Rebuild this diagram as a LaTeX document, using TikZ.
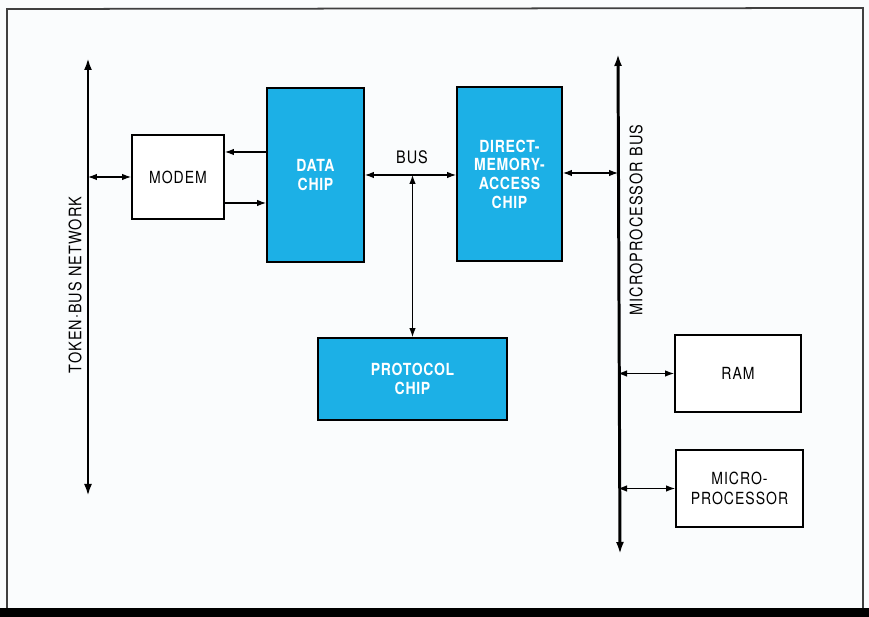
\documentclass[tikz,border=0pt]{standalone}
\usepackage{fontspec}
\setmainfont{TeX Gyre Heros}[FakeStretch=0.84]
\usepackage{tikz}
\usetikzlibrary{arrows.meta,positioning}
\definecolor{chipblue}{RGB}{28,176,230}
\definecolor{paper}{RGB}{250,252,253}

\begin{document}
\begin{tikzpicture}[x=0.02cm, y=-0.02cm,
  box/.style={draw, line width=1.1pt, fill=white, inner sep=0pt, align=center,
    font=\fontsize{9.5}{11}\selectfont\addfontfeature{LetterSpace=6}},
  chip/.style={box, fill=chipblue, text=white,
    font=\fontsize{9.5}{10.6}\selectfont\bfseries\addfontfeature{LetterSpace=4}},
  busline/.style={line width=1.7pt, {Latex[length=2.4mm,width=1.6mm]}-{Latex[length=2.4mm,width=1.6mm]}},
  link/.style={line width=0.6pt, {Latex[length=1.8mm,width=1.3mm]}-{Latex[length=1.8mm,width=1.3mm]}},
  oneway/.style={line width=0.6pt, -{Latex[length=1.8mm,width=1.3mm]}},
  label/.style={inner sep=0pt, font=\fontsize{9.8}{11}\selectfont\addfontfeature{LetterSpace=6}}]

  % page and frame
  \fill[paper] (0,0) rectangle (869,617);
  \useasboundingbox (0,0) rectangle (869,617);
  \draw[line width=1pt, black!75] (7,610) -- (7,9) -- (863,8) -- (863,610);
  \fill[black] (0,608) rectangle (869,617);

  % the two buses
  \coordinate (tbtop) at (88,58);
  \coordinate (tbbot) at (88,496);
  \coordinate (mbtop) at (618,54);
  \coordinate (mbbot) at (620,554);
  \draw[busline] (tbtop) -- (tbbot);
  \draw[busline] (mbtop) -- (mbbot);
  \node[label, rotate=90] (tbname) at (75,285) {TOKEN·BUS NETWORK};
  \node[label, rotate=90] (mbname) at (636,220) {MICROPROCESSOR BUS};

  % blocks
  \node[box, minimum width=1.84cm, minimum height=1.68cm] (modem) at (178,177) {MODEM};
  \node[chip, minimum width=1.94cm, minimum height=3.48cm] (data) at (315.5,175) {DATA\\CHIP};
  \node[chip, minimum width=2.1cm, minimum height=3.48cm] (dma) at (509.5,174) {DIRECT-\\MEMORY-\\ACCESS\\CHIP};
  \node[chip, minimum width=3.78cm, minimum height=1.64cm] (protocol) at (412.5,379) {PROTOCOL\\CHIP};
  \node[box, minimum width=2.52cm, minimum height=1.54cm] (ram) at (738,373.5) {RAM};
  \node[box, minimum width=2.54cm, minimum height=1.54cm] (micro) at (739.5,488.5) {MICRO-\\PROCESSOR};
  \node[label] (busname) at (412,157) {BUS};

  % connections
  \draw[link] (modem.west -| tbtop) -- (modem.west);
  \draw[oneway] ([yshift=0.5cm]modem.east -| data.west) -- ([yshift=0.5cm]modem.east);
  \draw[oneway] ([yshift=-0.52cm]modem.east) -- ([yshift=-0.52cm]modem.east -| data.west);
  \draw[link] (data.east) -- (data.east -| dma.west);
  \draw[link] (protocol.north |- data.east) -- (protocol.north);
  \draw[link] ([yshift=0.02cm]dma.east) -- ([yshift=0.02cm]dma.east -| mbtop);
  \draw[link] (ram.west -| mbtop) -- (ram.west);
  \draw[link] (micro.west -| mbtop) -- (micro.west);
\end{tikzpicture}
\end{document}
